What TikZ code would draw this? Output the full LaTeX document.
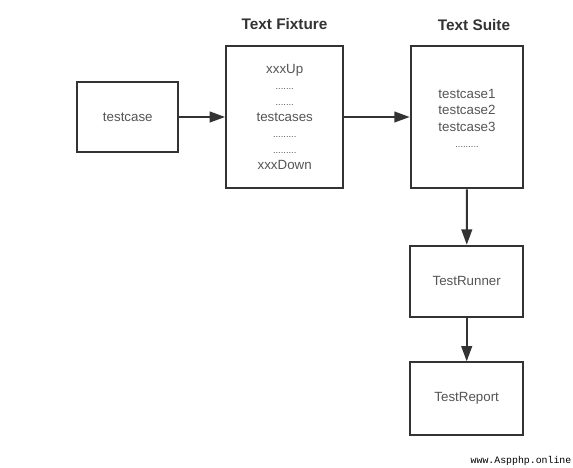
\documentclass[tikz,border=0pt]{standalone}
\usepackage{fontspec}
\setmainfont{Liberation Sans}
\setmonofont{Liberation Mono}
\usetikzlibrary{arrows.meta}
\definecolor{linec}{HTML}{333333}
\definecolor{textc}{HTML}{555555}
\begin{document}
\begin{tikzpicture}[x=0.75pt,y=-0.75pt,
  box/.style={draw=linec,line width=1.5pt,fill=white,inner sep=0pt,text=textc,
    font=\fontsize{10}{12}\selectfont,align=center},
  boxtext/.style={inner sep=0pt,text=textc,font=\fontsize{10}{12.4}\selectfont,align=center},
  title/.style={font=\bfseries\fontsize{11.5}{13}\selectfont,text=linec,inner sep=0pt},
  conn/.style={draw=linec,line width=1.5pt,-{Triangle[length=11.5pt,width=8pt]}}]
\useasboundingbox[fill=white] (0,0) rectangle (573,467);
\node[box,minimum width=75.8pt,minimum height=53pt] (tc) at (127.8,117) {testcase};
\node[box,minimum width=88pt,minimum height=107pt] (fix) at (284.7,117)
  {xxxUp\\{\scriptsize.......}\\{\scriptsize.......}\\testcases\\{\scriptsize.........}\\{\scriptsize.........}\\xxxDown};
\node[box,minimum width=84.5pt,minimum height=107pt] (suite) at (467,117) {};
\node[boxtext] (suitetxt) at (467,118.5)
  {testcase1\\testcase2\\testcase3\\{\scriptsize.........}};
\node[box,minimum width=85pt,minimum height=53.2pt] (run) at (466.7,281.2) {TestRunner};
\node[box,minimum width=85pt,minimum height=54.5pt] (rep) at (466.7,398.7) {TestReport};
\node[title] (t1) at (284.5,24.5) {Text Fixture};
\node[title] (t2) at (474,25.5) {Text Suite};
\node[font=\ttfamily\fontsize{7.4}{8}\selectfont,text=black,inner sep=0pt] (wm) at (521,460.5) {www.Aspphp.online};
\draw[conn] (tc) -- (fix);
\draw[conn] (fix) -- (suite);
\draw[conn] (suite) -- (run);
\draw[conn] (run) -- (rep);
\end{tikzpicture}
\end{document}
